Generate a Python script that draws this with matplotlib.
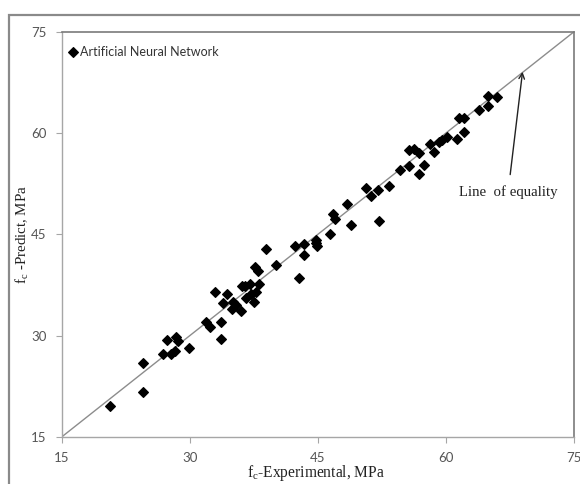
import matplotlib
matplotlib.use("Agg")
import matplotlib.pyplot as plt
from matplotlib.patches import Rectangle

# Experimental vs predicted compressive strength (MPa)
experimental = [20.6, 24.5, 24.5, 26.9, 27.3, 27.8, 28.2, 28.4, 28.6, 29.9,
                31.9, 32.4, 32.9, 33.6, 33.7, 33.9, 34.3, 34.9, 35.1, 35.4,
                36.0, 36.1, 36.5, 36.6, 37.0, 37.2, 37.5, 37.6, 37.7, 38.0,
                38.1, 38.9, 40.1, 42.3, 42.8, 43.4, 43.4, 44.8, 44.9, 44.8,
                46.4, 46.8, 47.0, 48.4, 48.9, 50.6, 51.2, 52.0, 52.2, 53.3,
                54.6, 55.7, 55.7, 56.3, 56.9, 56.9, 57.5, 58.1, 58.6, 59.2,
                59.6, 60.1, 61.3, 61.6, 62.1, 62.1, 63.9, 64.9, 64.9, 66.0]
predicted = [19.6, 21.7, 26.0, 27.3, 29.4, 27.3, 27.7, 29.8, 29.2, 28.1,
             32.0, 31.3, 36.4, 32.0, 29.5, 34.8, 36.1, 34.0, 34.9, 34.5,
             33.7, 37.3, 37.4, 35.5, 37.6, 36.1, 35.0, 40.2, 36.5, 39.6,
             37.6, 42.8, 40.5, 43.3, 38.5, 43.6, 41.9, 44.1, 43.2, 43.7,
             45.1, 48.0, 47.3, 49.5, 46.4, 51.8, 50.7, 51.6, 47.0, 52.2,
             54.5, 55.2, 57.5, 57.7, 57.1, 54.0, 55.3, 58.4, 57.2, 58.7,
             59.0, 59.4, 59.2, 62.3, 62.3, 60.2, 63.4, 64.0, 65.5, 65.3]
equality = [15, 75]
ticks = [15, 30, 45, 60, 75]
series_label = "Artificial Neural Network"

W, H = 580, 484
fig = plt.figure(figsize=(W / 100, H / 100), dpi=100)
fig.patch.set_facecolor("white")

# outer chart-area frame
fig.patches.append(Rectangle((9 / W, -0.05), 1.2, 1 - 15 / H + 0.05,
                             transform=fig.transFigure, fill=False,
                             edgecolor="#8a8a8a", linewidth=1.6, zorder=0))

ax = fig.add_axes([62 / W, 1 - 436.7 / H, (573.7 - 62) / W, (436.7 - 32) / H])
ax.set_xlim(15, 75)
ax.set_ylim(15, 75)

ax.plot(equality, equality, color="#8c8c8c", linewidth=1.0, zorder=2)
ax.plot(experimental, predicted, linestyle="none", marker="D", markersize=5.2,
        color="black", markeredgewidth=0.8, zorder=3, label=series_label)

ax.set_xticks(ticks)
ax.set_yticks(ticks)
for side in ["left", "bottom"]:
    ax.spines[side].set_color("#a6a6a6")
    ax.spines[side].set_linewidth(1.0)
for side in ["top", "right"]:
    ax.spines[side].set_color("#7a7a7a")
    ax.spines[side].set_linewidth(1.2)
ax.tick_params(direction="out", length=4, width=0.8, color="#a6a6a6",
               labelcolor="#555555", labelsize=9.5, pad=7)
for lab in ax.get_xticklabels() + ax.get_yticklabels():
    lab.set_family("Lato")

serif = "Liberation Serif"
ax.set_xlabel(r"f$_\mathregular{c}$-Experimental, MPa", family=serif,
              fontsize=11.2, color="#222222")
ax.set_ylabel(r"f$_\mathregular{c}$ -Predict, MPa", family=serif,
              fontsize=10.8, color="#222222")
ax.xaxis.set_label_coords((316 - 62) / 511.7, -(463 - 436.7) / 404.7)
ax.yaxis.set_label_coords(-(62 - 31) / 511.7, 0.5)

ax.annotate("Line  of equality", xy=(69.0, 69.1), xytext=(67.3, 51.2),
            ha="center", va="center", family=serif, fontsize=10.6,
            color="#222222",
            arrowprops=dict(arrowstyle="->", color="#222222", lw=1.0,
                            shrinkA=6, shrinkB=0, mutation_scale=10))

leg = ax.legend(loc="upper left", bbox_to_anchor=(63 / W, 1 - 40 / H),
                bbox_transform=fig.transFigure, frameon=False,
                handlelength=0.6, handletextpad=0.3, borderpad=0,
                prop={"family": "Lato", "size": 9})
for t in leg.get_texts():
    t.set_color("#333333")

fig.savefig("out.png", dpi=100, facecolor="white")
